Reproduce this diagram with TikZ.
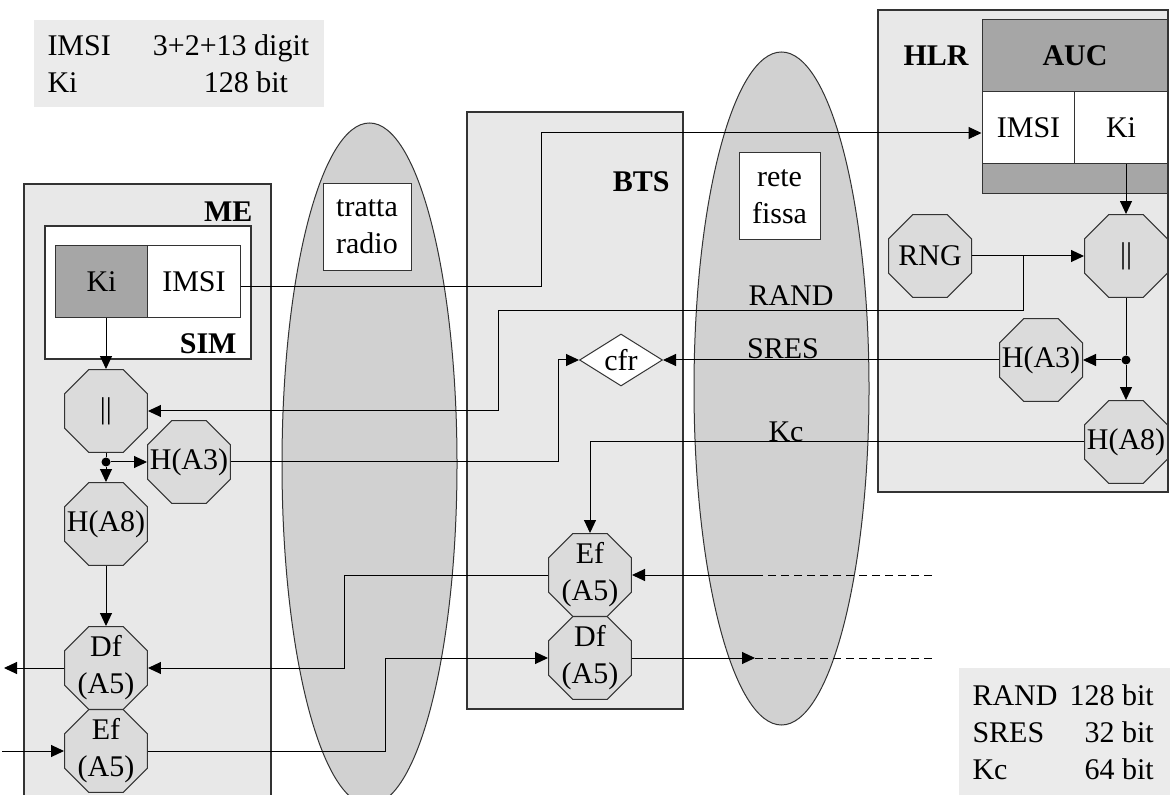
\documentclass[tikz,border=0pt]{standalone}
\usepackage{fontspec}
\setmainfont{Liberation Serif}
\usetikzlibrary{shapes.geometric,arrows.meta}

\definecolor{boxgrey}{gray}{0.91}
\definecolor{ovalgrey}{gray}{0.82}
\definecolor{octgrey}{gray}{0.86}
\definecolor{aucgrey}{gray}{0.65}
\definecolor{keygrey}{gray}{0.92}

\begin{document}
\begin{tikzpicture}[x=0.5pt,y=-0.5pt,line width=0.5pt,>={Triangle[length=6.5pt,width=6pt]}]
   \tikzstyle{every node}=[font=\fontsize{15}{18.5}\selectfont]
   \tikzstyle{unitbox}=[draw=black!80,fill=boxgrey,line width=0.8pt]
   \tikzstyle{unithead}=[font=\fontsize{15}{18.5}\selectfont\bfseries,inner sep=0pt]
   \tikzstyle{cellbox}=[draw=black!80,minimum width=46.5pt,minimum height=36pt,inner sep=0pt]
   \tikzstyle{octa}=[draw=black!80,fill=octgrey,regular polygon,regular polygon sides=8,minimum size=44.9pt,inner sep=0pt]
   \tikzstyle{ovalbox}=[draw=black!80,fill=ovalgrey,ellipse,minimum width=87.5pt,inner sep=0pt]
   \tikzstyle{namebox}=[draw=black!80,fill=white,align=center,inner sep=0pt,minimum height=43.5pt]
   \tikzstyle{joint}=[circle,fill=black,inner sep=0pt,minimum size=4.5pt]
   \useasboundingbox (0,0) rectangle (1170,795);

   % legends
   \fill [keygrey] (34,20) rectangle (324,107);
   \node (keyleft) [anchor=north west,inner sep=0pt] at (47,29)
      {\begin{tabular}{@{}l@{\hspace{21pt}}l@{}}IMSI & 3+2+13 digit\\ Ki & \hspace{25.5pt}128 bit\end{tabular}};
   \fill [keygrey] (959,668) rectangle (1172,797);
   \node (keyright) [anchor=north west,inner sep=0pt] at (972,679)
      {\begin{tabular}{@{}l@{\hspace{6pt}}r@{}}RAND & 128 bit\\ SRES & 32 bit\\ Kc & 64 bit\end{tabular}};

   % radio path and fixed network
   \node (radio) [ovalbox,minimum height=341pt] at (369.5,464) {};
   \node (fixed) [ovalbox,minimum height=336.5pt] at (781.5,388.5) {};
   \node (radiotag) [namebox,minimum width=44pt] at (367,227) {tratta\\radio};
   \node (fixedtag) [namebox,minimum width=40.5pt] at (779.5,196.5) {rete\\fissa};

   % mobile equipment
   \draw [unitbox] (24,184) rectangle (271,797);
   \node (me) [unithead,anchor=east] at (253,212) {ME};
   \draw [unitbox,fill=white] (45,226) rectangle (251,359);
   \node (sim) [unithead,anchor=east] at (237,344) {SIM};
   \node (simki) [cellbox,fill=aucgrey] at (101.5,282) {Ki};
   \node (simimsi) [cellbox,fill=white,right of=simki,node distance=46.25pt] {IMSI};
   \node (mecat) [octa,label=center:||] at (106,411) {};
   \node (medot) [joint] at (106,462) {};
   \node (mehA3) [octa,label=center:H(A3)] at (189,462) {};
   \node (mehA8) [octa,below of=mecat,node distance=56.5pt,label=center:H(A8)] {};
   \node (medf) [octa,below of=mehA8,node distance=72pt,label={[align=center]center:Df\\(A5)}] {};
   \node (meef) [octa,below of=medf,node distance=41.5pt,label={[align=center]center:Ef\\(A5)}] {};

   % base station
   \draw [unitbox] (467,112) rectangle (683,709);
   \node (bts) [unithead,anchor=east] at (670,182) {BTS};
   \node (cfr) [diamond,draw=black!80,fill=white,aspect=1.6,minimum width=41.5pt,minimum height=26pt,inner sep=0pt] at (621,360) {cfr};
   \node (btsef) [octa,label={[align=center]center:Ef\\(A5)}] at (590,575) {};
   \node (btsdf) [octa,below of=btsef,node distance=41.5pt,label={[align=center]center:Df\\(A5)}] {};

   % home location register
   \draw [unitbox] (878,10) rectangle (1168,492);
   \node (hlr) [unithead,anchor=west] at (903,56) {HLR};
   \draw [draw=black!80,fill=aucgrey] (982,20) rectangle (1167,194);
   \node (auc) [unithead] at (1075,56) {AUC};
   \node (aucimsi) [cellbox,fill=white] at (1028.5,128) {IMSI};
   \node (aucki) [cellbox,fill=white,right of=aucimsi,node distance=46.25pt] {Ki};
   \node (hlrcat) [octa,label=center:||] at (1126,256) {};
   \node (rng) [octa,left of=hlrcat,node distance=98pt,label=center:RNG] {};
   \node (hlrdot) [joint] at (1126,360) {};
   \node (hlrhA3) [octa,label=center:H(A3)] at (1041,360) {};
   \node (hlrhA8) [octa,below of=hlrcat,node distance=93pt,label=center:H(A8)] {};

   \node (randlbl) at (791,296) {RAND};
   \node (sreslbl) at (783,349) {SRES};
   \node (kclbl) at (786,432) {Kc};

   \coordinate (randsplit) at (1023,256);
   \coordinate (efin) at (932,575);
   \coordinate (efmid) at (755,575);
   \coordinate (dfmid) at (755,658);
   \coordinate (dfout) at (932,658);
   \coordinate (dfleft) at (4,668);
   \coordinate (efleft) at (2,751);

   \draw [->] (simki.south -| mecat.north) -- (mecat.north);
   \draw (mecat.south) -- (medot);
   \draw [->] (medot) -- (mehA3.west);
   \draw [->] (medot) -- (mehA8.north);
   \draw [->] (mehA8.south) -- (medf.north);
   \draw [->] ([yshift=-2.5pt]simimsi.east) -- (541,287) |- ([yshift=-2.5pt]aucimsi.west);
   \draw [->] (mehA3.east) -- (558,462) |- (cfr.west);

   \draw [->] (aucki.south -| hlrcat.north) -- (hlrcat.north);
   \draw [->] (rng.east) -- (hlrcat.west);
   \draw [->] (randsplit) -- (1023,311) -- (498,311) |- (mecat.east);
   \draw (hlrcat.south) -- (hlrdot);
   \draw [->] (hlrdot) -- (hlrhA3.east);
   \draw [->] (hlrdot) -- (hlrhA8.north);
   \draw [->] (hlrhA3.west) -- (cfr.east);
   \draw [->] (hlrhA8.west) -| (btsef.north);

   \draw [->] (btsef.west) -- (344,575) |- (medf.east);
   \draw [->] (meef.east) -- (385,751) |- (btsdf.west);
   \draw [->] (efmid) -- (btsef.east);
   \draw [dash pattern=on 4pt off 2.5pt] (efin) -- (efmid);
   \draw [->] (btsdf.east) -- (dfmid);
   \draw [dash pattern=on 4pt off 2.5pt] (dfmid) -- (dfout);
   \draw [->] (medf.west) -- (dfleft);
   \draw [->] (efleft) -- (meef.west);

\end{tikzpicture}
\end{document}
